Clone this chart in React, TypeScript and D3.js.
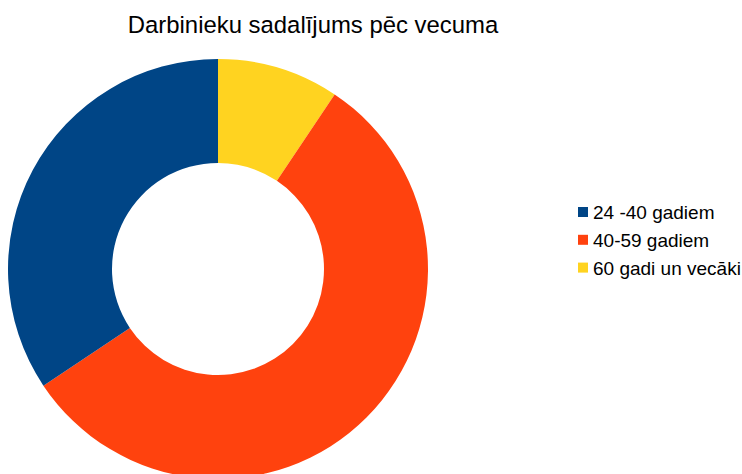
import React, { useEffect, useRef } from 'react';
import * as d3 from 'd3';

const title = 'Darbinieku sadalījums pēc vecuma';
const categories = ['24 -40 gadiem', '40-59 gadiem', '60 gadi un vecāki'];
const values = [11, 18, 3];
const colors = ['#004586', '#ff420e', '#ffd320'];

const App = () => {
  const svgRef = useRef<SVGSVGElement>(null);

  useEffect(() => {
    const svg = d3.select(svgRef.current);
    svg.selectAll('*').remove();
    const width = 742;
    const height = 474;

    svg.append('rect').attr('width', width).attr('height', height).attr('fill', '#fff');

    // Title
    svg.append('text')
      .attr('x', 313)
      .attr('y', 33)
      .attr('text-anchor', 'middle')
      .attr('font-family', '"Liberation Sans", Arial, sans-serif')
      .attr('font-size', 23.9)
      .attr('fill', '#000')
      .text(title);

    // Donut, starting with the last slice at 12 o'clock going clockwise
    const data = categories.map((c, i) => ({ name: c, value: values[i], color: colors[i] }));
    const ordered = [data[2], data[1], data[0]];
    const pie = d3.pie<any>().sort(null).value(d => d.value);
    const arc = d3.arc<any>().innerRadius(106).outerRadius(210);

    const g = svg.append('g').attr('transform', 'translate(218,269)');
    g.selectAll('path')
      .data(pie(ordered))
      .enter()
      .append('path')
      .attr('d', arc)
      .attr('fill', d => d.data.color);

    // Legend
    const legend = svg.append('g').attr('transform', 'translate(578,212)');
    const rows = legend.selectAll('g')
      .data(data)
      .enter()
      .append('g')
      .attr('transform', (d, i) => `translate(0,${i * 27.8})`);
    rows.append('rect')
      .attr('x', 0)
      .attr('y', -5)
      .attr('width', 10)
      .attr('height', 10)
      .attr('fill', d => d.color);
    rows.append('text')
      .attr('x', 15)
      .attr('y', 7)
      .attr('font-family', '"Liberation Sans", Arial, sans-serif')
      .attr('font-size', 19)
      .attr('fill', '#000')
      .text(d => d.name);
  }, []);

  return (
    <svg
      ref={svgRef}
      width={742}
      height={474}
      style={{ position: 'absolute', left: 0, top: 0, display: 'block' }}
    ></svg>
  );
};

export default App;
